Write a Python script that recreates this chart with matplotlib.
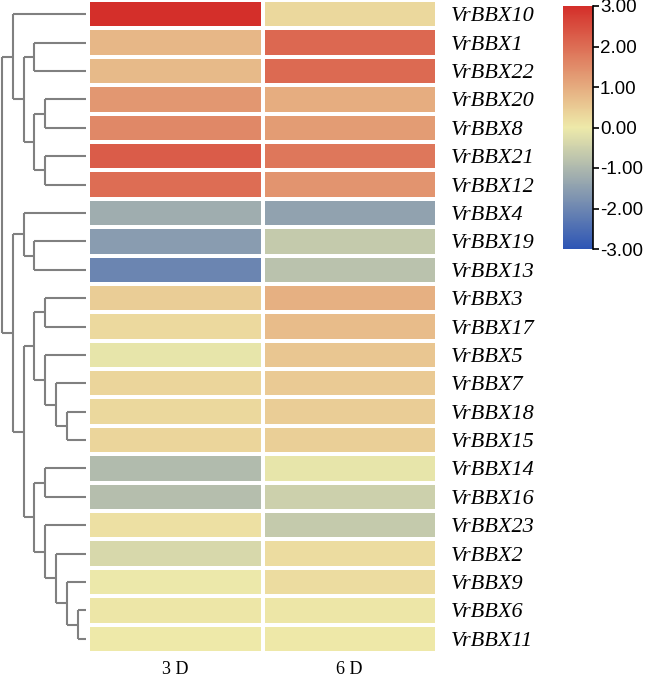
import numpy as np
import matplotlib
matplotlib.use('Agg')
import matplotlib.pyplot as plt
from matplotlib.colors import LinearSegmentedColormap

# row labels, top to bottom
genes = ['VrBBX10', 'VrBBX1', 'VrBBX22', 'VrBBX20', 'VrBBX8', 'VrBBX21', 'VrBBX12',
         'VrBBX4', 'VrBBX19', 'VrBBX13', 'VrBBX3', 'VrBBX17', 'VrBBX5', 'VrBBX7',
         'VrBBX18', 'VrBBX15', 'VrBBX14', 'VrBBX16', 'VrBBX23', 'VrBBX2', 'VrBBX9',
         'VrBBX6', 'VrBBX11']
samples = ['3 D', '6 D']

d3 = [3.00, 0.81, 0.76, 1.33, 1.57, 2.25, 2.00,
      -1.24, -1.56, -2.02, 0.46, 0.27, -0.10, 0.35,
      0.29, 0.35, -0.95, -0.87, 0.16, -0.37, -0.03,
      0.05, 0.00]
d6 = [0.29, 2.08, 2.05, 0.98, 1.25, 1.84, 1.37,
      -1.43, -0.65, -0.82, 0.92, 0.73, 0.57, 0.50,
      0.46, 0.44, -0.10, -0.53, -0.65, 0.22, 0.22,
      0.05, 0.03]

# row clustering (leaf = row index)
tree = ((0, ((1, 2), ((3, 4), (5, 6)))),
        ((7, (8, 9)),
         (((10, 11), (12, (13, (14, 15)))),
          ((16, 17), (18, (19, (20, (21, 22))))))))

cb_ticks = [3, 2, 1, 0, -1, -2, -3]

data = np.array([d3, d6]).T
cmap = LinearSegmentedColormap.from_list('bbx', ['#2d55b5', '#eeeaaa', '#d42f2a'])

fig = plt.figure(figsize=(6.46, 6.77), dpi=100)

# heatmap
ax = fig.add_axes([88/646, 24/677, 349/646, 653/677])
mesh = ax.pcolormesh(data, cmap=cmap, vmin=-3, vmax=3,
                     edgecolors='white', linewidth=1.5)
ax.set_ylim(len(genes), 0)
ax.set_xlim(0, len(samples))
ax.set_yticks(np.arange(len(genes)) + 0.5)
ax.set_yticklabels(genes, family='Liberation Serif', style='italic', fontsize=16)
ax.yaxis.tick_right()
ax.set_xticks(np.arange(len(samples)) + 0.5)
ax.set_xticklabels(samples, family='Liberation Serif', fontsize=13)
ax.tick_params(length=0)
ax.tick_params(axis='y', pad=10)
ax.tick_params(axis='x', pad=6)
for s in ax.spines.values():
    s.set_visible(False)

# dendrogram
dax = fig.add_axes([0, 24/677, 88/646, 653/677], sharey=ax)
leaf_depth = 7.78


def draw(node, depth):
    # returns y of node, x of node
    if isinstance(node, int):
        return node + 0.5, leaf_depth
    pts = [draw(c, depth + 1) for c in node]
    ys = [p[0] for p in pts]
    dax.plot([depth, depth], [min(ys), max(ys)], color='#808080', lw=1.5,
             solid_capstyle='butt')
    for y, x in pts:
        dax.plot([depth, x], [y, y], color='#808080', lw=1.5,
                 solid_capstyle='butt')
    return np.mean(ys), depth


draw(tree, 0)
dax.set_xlim(-0.185, 7.96)
dax.axis('off')

# colour bar
cax = fig.add_axes([563/646, (677-249)/677, 30/646, 243/677])
cb = fig.colorbar(mesh, cax=cax, ticks=cb_ticks, format='%.2f')
cb.outline.set_visible(False)
cax.plot([1, 1], [0, 1], transform=cax.transAxes, color='black', lw=1.2,
         clip_on=False)
cax.tick_params(length=4, width=1.2, color='black', pad=1, labelsize=13.5)
for t in cax.get_yticklabels():
    t.set_family('Liberation Sans')

fig.savefig('out.png', dpi=100)
